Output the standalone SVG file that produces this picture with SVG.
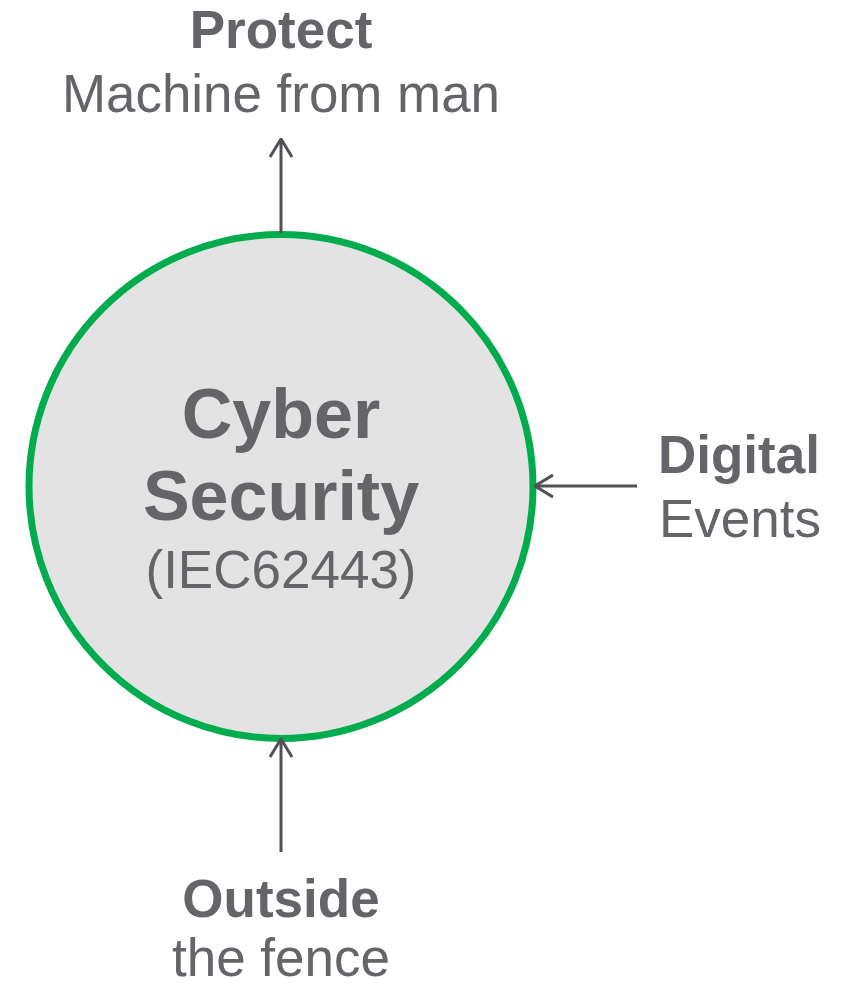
<svg xmlns="http://www.w3.org/2000/svg" width="846" height="986" viewBox="0 0 846 986">
<style>
.t{font-family:"Liberation Sans",Arial,sans-serif;fill:#646469;font-size:53px}
.b{font-weight:bold}
.c{font-size:70px}
.conn{stroke:#505055;stroke-width:3;fill:none}
</style>
<defs>
<marker id="ah" viewBox="0 0 20 24" refX="19" refY="12" markerWidth="20" markerHeight="24" markerUnits="userSpaceOnUse" orient="auto">
<path d="M1,1 L19,12 L1,23" fill="none" stroke="#505055" stroke-width="3" stroke-linejoin="miter"/>
</marker>
</defs>
<rect width="846" height="986" fill="#ffffff"/>
<g id="cyber">
<circle cx="281" cy="486.5" r="252" fill="#E3E3E3" stroke="#00AC4E" stroke-width="7"/>
<text class="t b c" x="281" y="438" text-anchor="middle">Cyber</text>
<text class="t b c" x="281" y="520" text-anchor="middle">Security</text>
<text class="t" x="281" y="588" text-anchor="middle">(IEC62443)</text>
</g>
<g id="protect">
<text class="t b" x="281" y="48" text-anchor="middle">Protect</text>
<text class="t" x="281" y="112" text-anchor="middle" textLength="438" lengthAdjust="spacingAndGlyphs">Machine from man</text>
</g>
<g id="digital">
<text class="t b" x="658" y="473">Digital</text>
<text class="t" x="659" y="537">Events</text>
</g>
<g id="outside">
<text class="t b" x="281" y="917" text-anchor="middle">Outside</text>
<text class="t" x="281" y="976" text-anchor="middle">the fence</text>
</g>
<g id="connectors">
<line class="conn" x1="281" y1="233" x2="281" y2="139" marker-end="url(#ah)"/>
<line class="conn" x1="637" y1="486" x2="535" y2="486" marker-end="url(#ah)"/>
<line class="conn" x1="281" y1="852" x2="281" y2="739" marker-end="url(#ah)"/>
</g>
</svg>
